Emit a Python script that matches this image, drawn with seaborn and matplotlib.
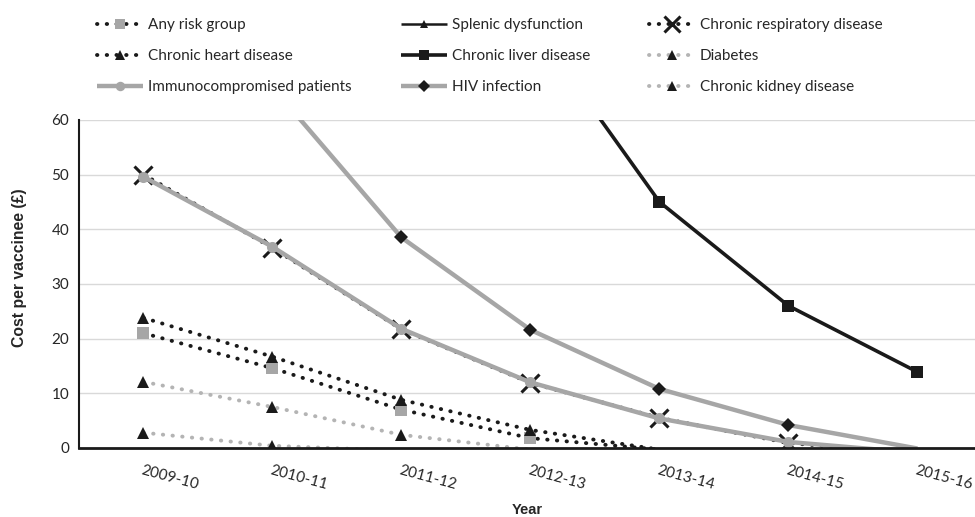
import numpy as np
import pandas as pd
import matplotlib.pyplot as plt
from matplotlib.ticker import FixedLocator
import seaborn as sns

nan = np.nan
years = ["2009-10", "2010-11", "2011-12", "2012-13", "2013-14", "2014-15", "2015-16"]

# cost per vaccinee (GBP); values slightly below 0 are clipped by the axis
any_risk = [21.0, 14.6, 7.0, 1.8, -0.3, nan, nan]
heart = [23.8, 16.7, 8.8, 3.3, -0.3, nan, nan]
diabetes = [12.1, 7.5, 2.4, -0.3, nan, nan, nan]
kidney = [2.8, 0.4, -0.5, nan, nan, nan, nan]
respiratory = [50.0, 36.6, 21.7, 11.9, 5.5, 0.9, -1.0]
immuno = [49.6, 36.8, 21.8, 12.0, 5.4, 1.1, -0.9]
hiv = [110.0, 66.0, 38.5, 21.6, 10.8, 4.2, -0.1]
liver = [340.0, 210.0, 130.0, 78.0, 45.0, 26.0, 13.9]
# splenic dysfunction never enters the visible range (above 60)
splenic = [600.0, 450.0, 330.0, 240.0, 170.0, 120.0, 85.0]

grey = "#a6a6a6"
lgrey = "#b4b4b4"
black = "#1a1a1a"
dots = (0, (0.1, 2.4))

sns.set_style("white")
plt.rcParams["font.family"] = ["Lato", "DejaVu Sans"]

fig = plt.figure(figsize=(9.75, 5.17), dpi=100)
ax = fig.add_axes([0.081, 0.1335, 0.919, 0.6345])

x = np.arange(len(years))

series = [
    # label, values, color, ls, lw, marker, ms, mfc, mec, mew
    ("Chronic respiratory disease", respiratory, black, dots, 2.8, "x", 13, black, black, 2.2),
    ("Any risk group", any_risk, black, dots, 2.8, "s", 8, grey, grey, 0),
    ("Chronic heart disease", heart, black, dots, 2.8, "^", 9, black, black, 0),
    ("Diabetes", diabetes, lgrey, dots, 2.8, "^", 9, black, black, 0),
    ("Chronic kidney disease", kidney, lgrey, dots, 2.8, "^", 9, black, black, 0),
    ("Splenic dysfunction", splenic, black, "-", 1.8, "^", 7, black, black, 0),
    ("Immunocompromised patients", immuno, grey, "-", 3.2, "o", 8, grey, grey, 0),
    ("HIV infection", hiv, grey, "-", 3.2, "D", 7, black, black, 0),
    ("Chronic liver disease", liver, black, "-", 2.6, "s", 9, black, black, 0),
]

handles = {}
for label, vals, col, ls, lw, mk, ms, mfc, mec, mew in series:
    df = pd.DataFrame({"x": x, "y": vals}).dropna()
    show = [i for i, v in enumerate(df["y"]) if 0 <= v <= 60]
    sns.lineplot(data=df, x="x", y="y", ax=ax, color=col, linestyle=ls, linewidth=lw,
                 marker=mk, markersize=ms, markerfacecolor=mfc, markeredgecolor=mec,
                 markeredgewidth=mew, markevery=show, dash_capstyle="round",
                 solid_capstyle="butt", label=label, legend=False)
    line = ax.lines[-1]
    line.set_clip_on(True)
    handles[label] = line

ax.set_xlim(-0.5, 6.446)
ax.set_ylim(0, 60)
ax.set_yticks(range(0, 61, 10))
ax.set_xticks(x)
ax.set_xticklabels(years, rotation=-15, ha="left", va="top", rotation_mode="anchor",
                   fontsize=11, color="#262626")
ax.xaxis.set_minor_locator(FixedLocator(np.arange(-0.5, 7, 1)))
ax.tick_params(axis="x", which="major", length=0, pad=11)
ax.tick_params(axis="x", which="minor", length=5, width=1, color=black, direction="out")
ax.tick_params(axis="y", length=4, width=1, color=black, direction="out", labelsize=11,
               labelcolor="#262626", pad=3)
ax.grid(axis="y", color="#d9d9d9", linewidth=1)
ax.set_axisbelow(True)
for s in ["top", "right"]:
    ax.spines[s].set_visible(False)
ax.spines["left"].set_color(black)
ax.spines["left"].set_linewidth(1.5)
ax.spines["bottom"].set_color(black)
ax.spines["bottom"].set_linewidth(2)
ax.spines["bottom"].set_zorder(5)

ax.set_xlabel("Year", fontsize=10.5, fontweight="bold", family="Liberation Sans", labelpad=0)
ax.xaxis.set_label_coords(0.5, -0.167)
ax.set_ylabel("Cost per vaccinee (£)", fontsize=11.3, fontweight="bold",
              family="Liberation Sans")
ax.yaxis.set_label_coords(-0.058, 0.55)

columns = [
    (["Any risk group", "Chronic heart disease", "Immunocompromised patients"], 0.09),
    (["Splenic dysfunction", "Chronic liver disease", "HIV infection"], 0.402),
    (["Chronic respiratory disease", "Diabetes", "Chronic kidney disease"], 0.656),
]
for labels, xpos in columns:
    fig.legend([handles[l] for l in labels], labels, loc="upper left",
               bbox_to_anchor=(xpos, 0.983), frameon=False, fontsize=11,
               handlelength=3.0, handletextpad=0.35, labelspacing=1.12,
               borderaxespad=0.3, borderpad=0.3, markerscale=0.85)

fig.savefig("out.png", dpi=100)
